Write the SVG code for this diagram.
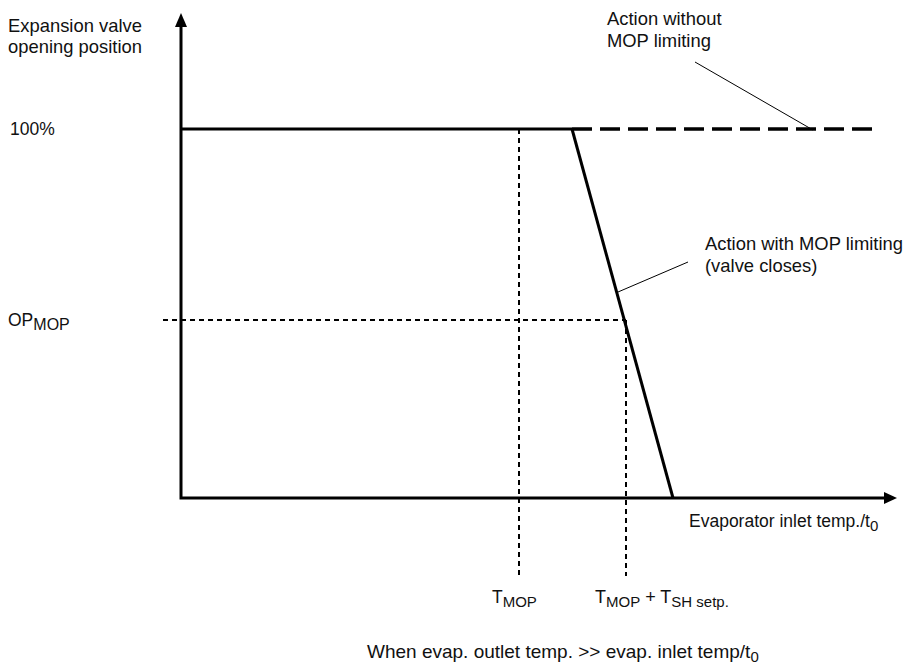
<svg xmlns="http://www.w3.org/2000/svg" width="904" height="670" viewBox="0 0 904 670">
<style>
text{font-family:"Liberation Sans",Arial,sans-serif;font-size:18.4px;fill:#111}
.sub{font-size:15px}
.axis{stroke:#000;stroke-width:3;fill:none}
.solid{stroke:#000;stroke-width:3;fill:none}
.dash{stroke:#000;stroke-width:3.5;fill:none;stroke-dasharray:20 8}
.dot{stroke:#000;stroke-width:2;fill:none;stroke-dasharray:5 4}
.lead{stroke:#000;stroke-width:1;fill:none}
</style>
<rect width="904" height="670" fill="#fff"/>
<g id="connectors">
<line class="dot" x1="519" y1="129" x2="519" y2="576"/>
<line class="dot" x1="626" y1="320" x2="626" y2="576"/>
<line class="dot" x1="163" y1="320" x2="626" y2="320"/>
<line class="solid" x1="181" y1="129" x2="572" y2="129"/>
<line class="dash" x1="572" y1="129" x2="874" y2="129"/>
<line class="solid" x1="572" y1="129" x2="673" y2="498"/>
<line class="lead" x1="695" y1="62" x2="813" y2="130"/>
<line class="lead" x1="688" y1="262" x2="618" y2="292"/>
</g>
<g id="axes">
<polyline class="axis" points="181,25 181,498 886,498"/>
<polygon points="181,13 175,27 187,27" fill="#000"/>
<polygon points="897,498 884,492 884,504" fill="#000"/>
</g>
<g id="labels">
<text x="8" y="32">Expansion valve</text>
<text x="8" y="53">opening position</text>
<text x="10" y="135" style="font-size:17.5px">100%</text>
<text x="8" y="326" style="font-size:17.5px">OP<tspan class="sub" dy="4" style="font-size:16px">MOP</tspan></text>
<text x="607" y="25">Action without</text>
<text x="607" y="47">MOP limiting</text>
<text x="705" y="250">Action with MOP limiting</text>
<text x="705" y="272">(valve closes)</text>
<text x="689" y="527" style="font-size:17.5px">Evaporator inlet temp./t<tspan class="sub" dy="4">0</tspan></text>
<text x="492" y="603" style="font-size:17.5px">T<tspan class="sub" dy="4">MOP</tspan></text>
<text x="595" y="603" style="font-size:18px">T<tspan class="sub" dy="4">MOP</tspan><tspan dy="-4"> + T</tspan><tspan class="sub" dy="4">SH setp.</tspan></text>
<text x="367" y="658" style="font-size:19px">When evap. outlet temp. &gt;&gt; evap. inlet temp/t<tspan class="sub" dy="4">0</tspan></text>
</g>
</svg>
